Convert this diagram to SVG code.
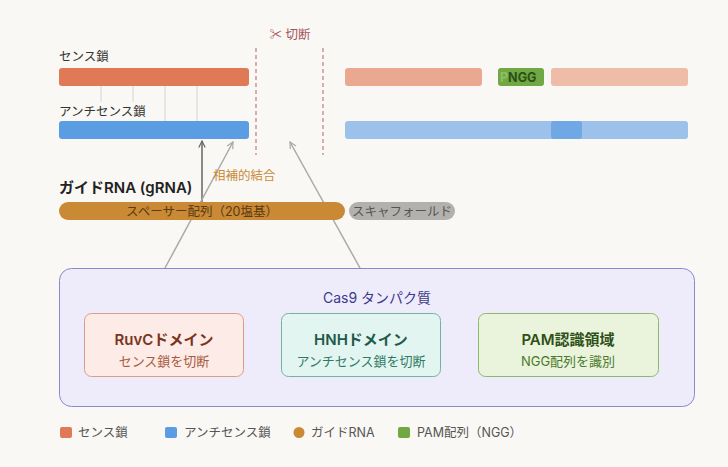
<svg xmlns="http://www.w3.org/2000/svg" width="728" height="467" viewBox="0 0 728 467">
<defs>
<style>
text{font-family:Inter,"Noto Sans CJK JP","Noto Sans",sans-serif;}
.lbl{font-size:12.5px;fill:#333;}
.leg{font-size:12.5px;fill:#555;}
.tick{stroke:#d4d4d4;stroke-width:1;}
.cut{stroke:#c47a80;stroke-width:1.2;stroke-dasharray:4 3;}
.dt{font-size:15px;font-weight:600;text-anchor:middle;}
.ds{font-size:13px;text-anchor:middle;}
</style>
<marker id="ahd" viewBox="0 0 10 10" refX="9" refY="5" markerWidth="8" markerHeight="8" orient="auto-start-reverse" markerUnits="userSpaceOnUse">
<path d="M1,1 L9,5 L1,9" fill="none" stroke="#666" stroke-width="1.5"/>
</marker>
<marker id="ahl" viewBox="0 0 10 10" refX="9" refY="5" markerWidth="8" markerHeight="8" orient="auto-start-reverse" markerUnits="userSpaceOnUse">
<path d="M1,1 L9,5 L1,9" fill="none" stroke="#aaa" stroke-width="1.5"/>
</marker>
</defs>
<rect width="728" height="467" fill="#faf8f4"/>

<g id="cut-mark">
<line class="cut" x1="256" y1="48" x2="256" y2="155"/>
<line class="cut" x1="323" y1="48" x2="323" y2="155"/>
<text x="290" y="39" font-size="12.5" fill="#a5545c" text-anchor="middle">✂ 切断</text>
</g>

<g id="sense-strand">
<text class="lbl" x="59" y="61">センス鎖</text>
<rect x="59" y="68" width="190" height="18" rx="3" fill="#e07a56"/>
<rect x="345" y="68" width="137" height="18" rx="3" fill="#e9a88f"/>
<rect x="551" y="68" width="137" height="18" rx="3" fill="#efbca8"/>
</g>

<g id="pam">
<rect x="498" y="68" width="46" height="18" rx="3" fill="#70a844"/>
<text x="500" y="82" font-size="12.5" font-weight="bold" fill="#2d5016"><tspan fill="#8fc060">P</tspan>NGG</text>
</g>

<g id="base-pairs">
<line class="tick" x1="101" y1="86" x2="101" y2="102"/>
<line class="tick" x1="133" y1="86" x2="133" y2="102"/>
<line class="tick" x1="165" y1="86" x2="165" y2="121"/>
<line class="tick" x1="197" y1="86" x2="197" y2="121"/>
</g>

<g id="antisense-strand">
<text class="lbl" x="59" y="116">アンチセンス鎖</text>
<rect x="59" y="121" width="190" height="18" rx="3" fill="#5b9de2"/>
<rect x="345" y="121" width="343" height="18" rx="3" fill="#9cc1ea"/>
<rect x="551" y="121" width="31" height="18" rx="3" fill="#70a8e6"/>
</g>

<g id="connectors">
<line x1="202" y1="202" x2="202" y2="141" stroke="#666" stroke-width="1.5" marker-end="url(#ahd)"/>
<line x1="165" y1="268" x2="233" y2="142" stroke="#aaa" stroke-width="1.5" marker-end="url(#ahl)"/>
<line x1="360" y1="268" x2="290" y2="142" stroke="#aaa" stroke-width="1.5" marker-end="url(#ahl)"/>
<text x="213" y="180" font-size="12.5" fill="#c98a3a">相補的結合</text>
</g>

<g id="guide-rna">
<text x="59" y="193" font-size="15" font-weight="600" fill="#222">ガイドRNA (gRNA)</text>
<rect x="59" y="202" width="286" height="18" rx="9" fill="#c98935"/>
<text x="202" y="215.5" font-size="12.5" fill="#5a3a12" text-anchor="middle">スペーサー配列（20塩基）</text>
</g>

<g id="scaffold">
<rect x="349" y="202" width="106" height="18" rx="9" fill="#b3b1ae"/>
<text x="402" y="215.5" font-size="12.5" fill="#555" text-anchor="middle">スキャフォールド</text>
</g>

<g id="cas9">
<rect x="59.5" y="268.5" width="635" height="138" rx="12" fill="#eeecfb" stroke="#8c88cc" stroke-width="1"/>
<text x="377" y="303" font-size="14" fill="#3d3a8a" text-anchor="middle">Cas9 タンパク質</text>
</g>

<g id="ruvc">
<rect x="84.5" y="313.5" width="159" height="63" rx="7" fill="#fcebe6" stroke="#dc9c8a"/>
<text class="dt" x="164" y="345" fill="#7a3520">RuvCドメイン</text>
<text class="ds" x="164" y="366" fill="#a85a3e">センス鎖を切断</text>
</g>

<g id="hnh">
<rect x="281.5" y="313.5" width="159" height="63" rx="7" fill="#e3f5f0" stroke="#6fb5a0"/>
<text class="dt" x="361" y="345" fill="#1d5a4a">HNHドメイン</text>
<text class="ds" x="361" y="366" fill="#2e7a64">アンチセンス鎖を切断</text>
</g>

<g id="pam-domain">
<rect x="478.5" y="313.5" width="180" height="63" rx="7" fill="#eaf3dc" stroke="#90b86c"/>
<text class="dt" x="568" y="345" fill="#2d5016">PAM認識領域</text>
<text class="ds" x="568" y="366" fill="#4a7a2a">NGG配列を識別</text>
</g>

<g id="legend">
<rect x="60" y="427" width="12" height="11" rx="2" fill="#e07a56"/>
<text class="leg" x="78" y="437">センス鎖</text>
<rect x="165" y="427" width="12" height="11" rx="2" fill="#5b9de2"/>
<text class="leg" x="184" y="437">アンチセンス鎖</text>
<circle cx="299" cy="432.5" r="5.5" fill="#c98935"/>
<text class="leg" x="311" y="437">ガイドRNA</text>
<rect x="398" y="427" width="12" height="11" rx="2" fill="#70a844"/>
<text class="leg" x="417" y="437">PAM配列（NGG）</text>
</g>
</svg>
